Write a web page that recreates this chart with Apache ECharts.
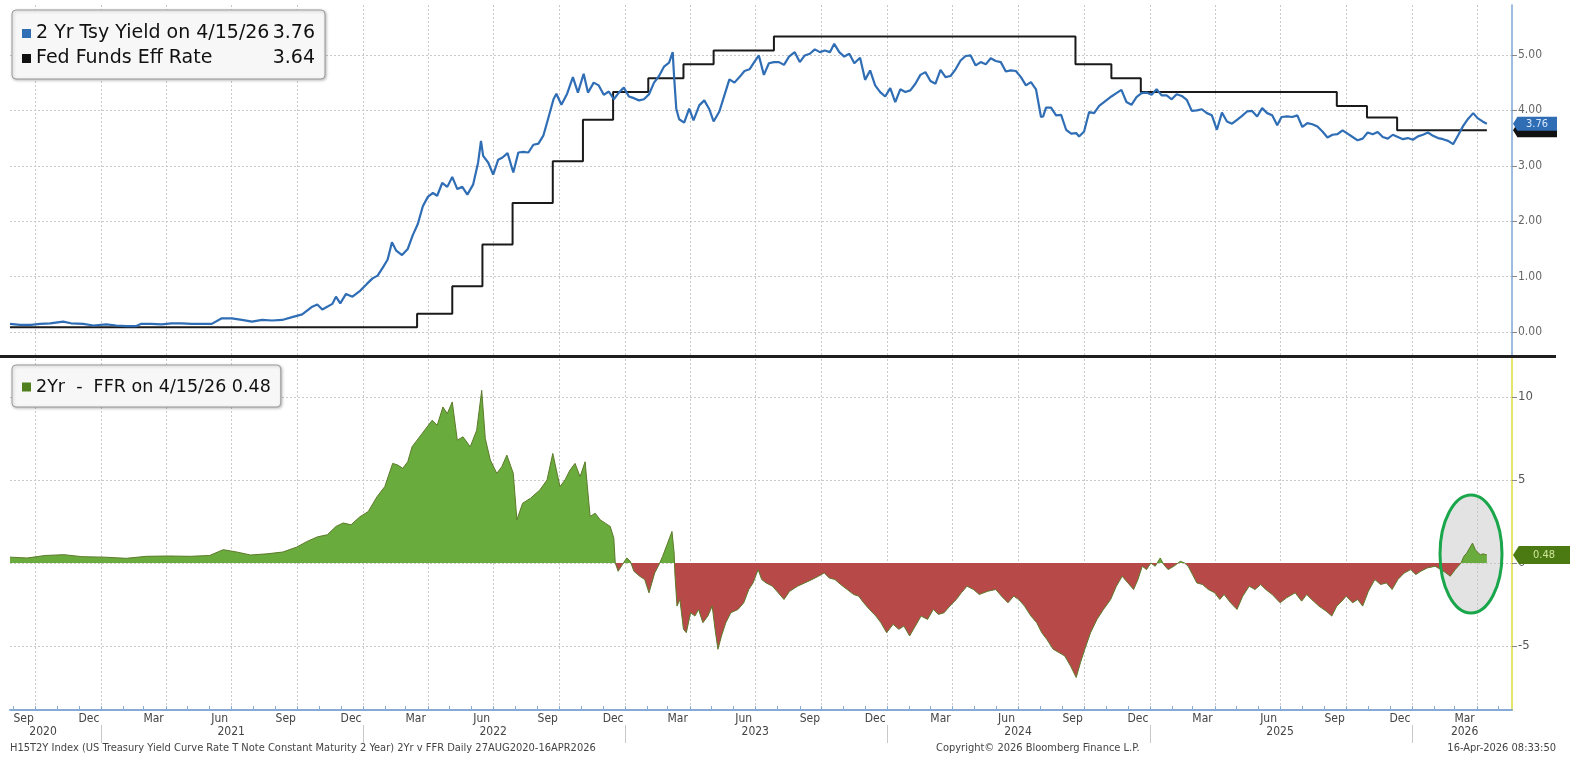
<!DOCTYPE html>
<html>
<head>
<meta charset="utf-8">
<script src="https://cdn.jsdelivr.net/npm/echarts@6/dist/echarts.min.js"></script>
<style>
html, body { margin: 0; padding: 0; background: #fff; }
#chart { width: 1570px; height: 764px; }
</style>
</head>
<body>
<div id="chart"></div>
<script>
// 2 Yr Tsy yield
const yieldPoints = [
  ['2020-08-27', 0.15], ['2020-09-10', 0.13], ['2020-09-25', 0.13], ['2020-10-08', 0.15], ['2020-10-22', 0.16],
  ['2020-11-09', 0.19], ['2020-11-20', 0.16], ['2020-12-07', 0.15], ['2020-12-21', 0.12], ['2021-01-08', 0.14],
  ['2021-01-22', 0.12], ['2021-02-05', 0.11], ['2021-02-19', 0.11], ['2021-02-26', 0.15], ['2021-03-12', 0.15],
  ['2021-03-26', 0.14], ['2021-04-09', 0.16], ['2021-04-23', 0.16], ['2021-05-07', 0.15], ['2021-05-21', 0.15],
  ['2021-06-04', 0.15], ['2021-06-18', 0.25], ['2021-07-02', 0.25], ['2021-07-16', 0.22], ['2021-07-30', 0.19],
  ['2021-08-13', 0.22], ['2021-08-27', 0.21], ['2021-09-10', 0.22], ['2021-09-24', 0.27], ['2021-10-08', 0.32],
  ['2021-10-22', 0.46], ['2021-10-29', 0.50], ['2021-11-05', 0.41], ['2021-11-19', 0.51], ['2021-11-24', 0.64],
  ['2021-11-30', 0.52], ['2021-12-08', 0.69], ['2021-12-17', 0.64], ['2021-12-28', 0.75], ['2022-01-06', 0.87],
  ['2022-01-14', 0.97], ['2022-01-21', 1.02], ['2022-01-28', 1.16], ['2022-02-04', 1.31], ['2022-02-10', 1.62],
  ['2022-02-16', 1.47], ['2022-02-24', 1.39], ['2022-03-04', 1.50], ['2022-03-11', 1.75], ['2022-03-18', 1.95],
  ['2022-03-25', 2.27], ['2022-04-01', 2.44], ['2022-04-08', 2.51], ['2022-04-14', 2.46], ['2022-04-21', 2.69],
  ['2022-04-28', 2.62], ['2022-05-05', 2.80], ['2022-05-12', 2.58], ['2022-05-19', 2.62], ['2022-05-26', 2.48],
  ['2022-06-03', 2.66], ['2022-06-10', 3.06], ['2022-06-14', 3.45], ['2022-06-17', 3.18], ['2022-06-24', 3.06],
  ['2022-07-01', 2.84], ['2022-07-08', 3.11], ['2022-07-14', 3.15], ['2022-07-21', 3.23], ['2022-07-29', 2.88],
  ['2022-08-05', 3.24], ['2022-08-12', 3.25], ['2022-08-19', 3.24], ['2022-08-26', 3.38], ['2022-09-02', 3.40],
  ['2022-09-09', 3.55], ['2022-09-16', 3.87], ['2022-09-23', 4.20], ['2022-09-27', 4.30], ['2022-10-04', 4.10],
  ['2022-10-12', 4.30], ['2022-10-20', 4.60], ['2022-10-27', 4.32], ['2022-11-04', 4.66], ['2022-11-10', 4.32],
  ['2022-11-18', 4.50], ['2022-11-25', 4.45], ['2022-12-02', 4.28], ['2022-12-09', 4.34], ['2022-12-16', 4.20],
  ['2022-12-23', 4.32], ['2022-12-30', 4.41], ['2023-01-06', 4.25], ['2023-01-13', 4.22], ['2023-01-20', 4.18],
  ['2023-01-27', 4.20], ['2023-02-03', 4.29], ['2023-02-10', 4.50], ['2023-02-17', 4.62], ['2023-02-24', 4.79],
  ['2023-03-03', 4.86], ['2023-03-08', 5.05], ['2023-03-10', 4.60], ['2023-03-13', 4.03], ['2023-03-17', 3.84],
  ['2023-03-24', 3.78], ['2023-03-31', 4.03], ['2023-04-06', 3.82], ['2023-04-14', 4.09], ['2023-04-21', 4.18],
  ['2023-04-28', 4.02], ['2023-05-04', 3.80], ['2023-05-12', 3.98], ['2023-05-19', 4.27], ['2023-05-26', 4.56],
  ['2023-06-02', 4.50], ['2023-06-09', 4.60], ['2023-06-16', 4.71], ['2023-06-23', 4.74], ['2023-06-30', 4.88],
  ['2023-07-06', 4.99], ['2023-07-13', 4.64], ['2023-07-20', 4.85], ['2023-07-27', 4.87], ['2023-08-03', 4.87],
  ['2023-08-10', 4.82], ['2023-08-17', 4.97], ['2023-08-25', 5.05], ['2023-09-01', 4.87], ['2023-09-08', 4.99],
  ['2023-09-15', 5.02], ['2023-09-22', 5.10], ['2023-09-29', 5.05], ['2023-10-06', 5.08], ['2023-10-13', 5.05],
  ['2023-10-19', 5.20], ['2023-10-26', 5.05], ['2023-11-02', 4.97], ['2023-11-09', 5.02], ['2023-11-16', 4.85],
  ['2023-11-24', 4.95], ['2023-12-01', 4.55], ['2023-12-08', 4.72], ['2023-12-15', 4.45], ['2023-12-22', 4.33],
  ['2023-12-29', 4.25], ['2024-01-05', 4.40], ['2024-01-12', 4.15], ['2024-01-19', 4.38], ['2024-01-26', 4.33],
  ['2024-02-02', 4.36], ['2024-02-09', 4.48], ['2024-02-16', 4.64], ['2024-02-23', 4.69], ['2024-03-01', 4.53],
  ['2024-03-08', 4.48], ['2024-03-15', 4.73], ['2024-03-22', 4.60], ['2024-03-29', 4.62], ['2024-04-05', 4.74],
  ['2024-04-12', 4.90], ['2024-04-19', 4.98], ['2024-04-26', 4.99], ['2024-05-03', 4.81], ['2024-05-10', 4.87],
  ['2024-05-17', 4.83], ['2024-05-24', 4.94], ['2024-05-31', 4.89], ['2024-06-07', 4.87], ['2024-06-14', 4.70],
  ['2024-06-21', 4.72], ['2024-06-28', 4.71], ['2024-07-05', 4.60], ['2024-07-12', 4.45], ['2024-07-19', 4.51],
  ['2024-07-26', 4.38], ['2024-08-02', 3.88], ['2024-08-05', 3.89], ['2024-08-09', 4.05], ['2024-08-16', 4.05],
  ['2024-08-23', 3.91], ['2024-08-30', 3.92], ['2024-09-06', 3.65], ['2024-09-13', 3.58], ['2024-09-20', 3.59],
  ['2024-09-24', 3.53], ['2024-10-01', 3.62], ['2024-10-08', 3.97], ['2024-10-15', 3.95], ['2024-10-22', 4.08],
  ['2024-10-31', 4.17], ['2024-11-08', 4.25], ['2024-11-15', 4.31], ['2024-11-22', 4.37], ['2024-11-29', 4.15],
  ['2024-12-06', 4.10], ['2024-12-13', 4.24], ['2024-12-20', 4.31], ['2024-12-27', 4.32], ['2025-01-03', 4.28],
  ['2025-01-10', 4.38], ['2025-01-17', 4.27], ['2025-01-24', 4.27], ['2025-01-31', 4.20], ['2025-02-07', 4.29],
  ['2025-02-14', 4.26], ['2025-02-21', 4.19], ['2025-02-28', 3.99], ['2025-03-07', 4.00], ['2025-03-14', 4.02],
  ['2025-03-21', 3.95], ['2025-03-28', 3.91], ['2025-04-04', 3.65], ['2025-04-11', 3.96], ['2025-04-18', 3.80],
  ['2025-04-25', 3.76], ['2025-05-02', 3.83], ['2025-05-09', 3.90], ['2025-05-16', 3.98], ['2025-05-23', 3.99],
  ['2025-05-30', 3.89], ['2025-06-06', 4.04], ['2025-06-13', 3.95], ['2025-06-20', 3.91], ['2025-06-27', 3.73],
  ['2025-07-03', 3.88], ['2025-07-11', 3.89], ['2025-07-18', 3.88], ['2025-07-25', 3.91], ['2025-08-01', 3.70],
  ['2025-08-08', 3.77], ['2025-08-15', 3.75], ['2025-08-22', 3.71], ['2025-08-29', 3.62], ['2025-09-05', 3.51],
  ['2025-09-12', 3.56], ['2025-09-19', 3.57], ['2025-09-26', 3.64], ['2025-10-03', 3.58], ['2025-10-10', 3.52],
  ['2025-10-17', 3.46], ['2025-10-24', 3.49], ['2025-10-31', 3.60], ['2025-11-07', 3.57], ['2025-11-14', 3.61],
  ['2025-11-21', 3.52], ['2025-11-28', 3.49], ['2025-12-05', 3.56], ['2025-12-12', 3.52], ['2025-12-19', 3.48],
  ['2025-12-26', 3.50], ['2026-01-02', 3.47], ['2026-01-09', 3.53], ['2026-01-16', 3.56], ['2026-01-23', 3.60],
  ['2026-01-30', 3.54], ['2026-02-06', 3.50], ['2026-02-13', 3.48], ['2026-02-20', 3.45], ['2026-02-27', 3.39],
  ['2026-03-06', 3.55], ['2026-03-13', 3.72], ['2026-03-20', 3.85], ['2026-03-27', 3.95], ['2026-04-02', 3.86],
  ['2026-04-09', 3.80], ['2026-04-15', 3.76]
];

// Fed funds effective rate, one point per change
const ffrPoints = [
  ['2020-08-27', 0.09], ['2022-03-17', 0.33], ['2022-05-05', 0.83], ['2022-06-16', 1.58], ['2022-07-28', 2.33],
  ['2022-09-22', 3.08], ['2022-11-03', 3.83], ['2022-12-15', 4.33], ['2023-02-02', 4.58], ['2023-03-23', 4.83],
  ['2023-05-04', 5.08], ['2023-07-27', 5.33], ['2024-09-19', 4.83], ['2024-11-08', 4.58], ['2024-12-19', 4.33],
  ['2025-09-18', 4.08], ['2025-10-30', 3.87], ['2025-12-11', 3.64], ['2026-04-15', 3.64]
];

// 2Yr - FFR, in the lower panel's own units
const spreadPoints = [
  ['2020-08-27', 0.35], ['2020-09-20', 0.30], ['2020-10-15', 0.45], ['2020-11-10', 0.50], ['2020-12-05', 0.38],
  ['2021-01-05', 0.35], ['2021-02-05', 0.28], ['2021-03-05', 0.40], ['2021-04-05', 0.42], ['2021-05-05', 0.40],
  ['2021-06-01', 0.45], ['2021-06-20', 0.80], ['2021-07-10', 0.65], ['2021-07-28', 0.48], ['2021-08-20', 0.55],
  ['2021-09-11', 0.66], ['2021-09-30', 0.95], ['2021-10-15', 1.30], ['2021-10-29', 1.57], ['2021-11-12', 1.70],
  ['2021-11-24', 2.20], ['2021-12-04', 2.41], ['2021-12-15', 2.30], ['2021-12-27', 2.77], ['2022-01-08', 3.10],
  ['2022-01-20', 3.98], ['2022-01-31', 4.60], ['2022-02-11', 6.00], ['2022-02-18', 5.90], ['2022-02-25', 5.70],
  ['2022-03-04', 6.10], ['2022-03-10', 7.00], ['2022-03-17', 7.40], ['2022-03-24', 7.80], ['2022-04-07', 8.60],
  ['2022-04-14', 8.30], ['2022-04-22', 9.40], ['2022-04-28', 9.00], ['2022-05-05', 9.70], ['2022-05-12', 7.40],
  ['2022-05-20', 7.60], ['2022-05-30', 7.00], ['2022-06-08', 8.00], ['2022-06-15', 10.40], ['2022-06-20', 7.50],
  ['2022-06-27', 6.20], ['2022-07-06', 5.40], ['2022-07-13', 5.80], ['2022-07-20', 6.50], ['2022-07-29', 5.40],
  ['2022-08-03', 2.60], ['2022-08-11', 3.60], ['2022-08-22', 3.90], ['2022-09-04', 4.40], ['2022-09-14', 5.00],
  ['2022-09-22', 6.60], ['2022-10-02', 4.60], ['2022-10-09', 5.00], ['2022-10-16', 5.60], ['2022-10-23', 6.00],
  ['2022-10-30', 5.20], ['2022-11-06', 6.10], ['2022-11-13', 2.80], ['2022-11-20', 3.00], ['2022-11-27', 2.60],
  ['2022-12-04', 2.40], ['2022-12-11', 2.20], ['2022-12-16', 1.50], ['2022-12-18', 0.00], ['2022-12-22', -0.50],
  ['2022-12-28', -0.10], ['2023-01-03', 0.30], ['2023-01-08', 0.10], ['2023-01-13', -0.50], ['2023-01-21', -0.80],
  ['2023-01-28', -1.00], ['2023-02-03', -1.80], ['2023-02-11', -0.60], ['2023-02-17', -0.10], ['2023-02-22', 0.40],
  ['2023-03-01', 1.20], ['2023-03-07', 1.90], ['2023-03-10', 0.60], ['2023-03-11', -0.60], ['2023-03-14', -2.60],
  ['2023-03-18', -2.20], ['2023-03-23', -4.00], ['2023-03-27', -4.20], ['2023-04-02', -3.00], ['2023-04-08', -3.20],
  ['2023-04-13', -2.80], ['2023-04-19', -3.60], ['2023-04-26', -3.20], ['2023-05-02', -2.60], ['2023-05-06', -4.00],
  ['2023-05-10', -5.20], ['2023-05-15', -4.40], ['2023-05-21', -3.60], ['2023-05-28', -3.00], ['2023-06-07', -2.80],
  ['2023-06-15', -2.40], ['2023-06-22', -1.60], ['2023-06-28', -1.20], ['2023-07-05', -0.40], ['2023-07-10', -1.00],
  ['2023-07-16', -1.20], ['2023-07-25', -1.40], ['2023-08-02', -1.80], ['2023-08-10', -2.20], ['2023-08-18', -1.70],
  ['2023-08-29', -1.40], ['2023-09-08', -1.20], ['2023-09-18', -1.00], ['2023-09-27', -0.80], ['2023-10-05', -0.60],
  ['2023-10-12', -0.90], ['2023-10-20', -1.00], ['2023-10-28', -1.30], ['2023-11-06', -1.60], ['2023-11-15', -1.90],
  ['2023-11-22', -2.00], ['2023-11-29', -2.40], ['2023-12-07', -2.80], ['2023-12-16', -3.20], ['2023-12-23', -3.60],
  ['2023-12-31', -4.20], ['2024-01-09', -3.70], ['2024-01-17', -4.00], ['2024-01-24', -3.80], ['2024-02-01', -4.40],
  ['2024-02-09', -3.80], ['2024-02-17', -3.20], ['2024-02-26', -3.40], ['2024-03-05', -2.80], ['2024-03-12', -3.10],
  ['2024-03-20', -3.00], ['2024-03-28', -2.60], ['2024-04-06', -2.20], ['2024-04-13', -1.80], ['2024-04-21', -1.40],
  ['2024-04-30', -1.60], ['2024-05-08', -1.90], ['2024-05-20', -1.70], ['2024-05-31', -1.60], ['2024-06-08', -2.00],
  ['2024-06-17', -2.40], ['2024-06-25', -2.00], ['2024-07-02', -2.20], ['2024-07-10', -2.60], ['2024-07-19', -3.20],
  ['2024-07-27', -3.60], ['2024-08-03', -4.20], ['2024-08-10', -4.60], ['2024-08-19', -5.20], ['2024-08-27', -5.40],
  ['2024-09-04', -5.60], ['2024-09-12', -6.20], ['2024-09-20', -6.90], ['2024-09-26', -6.00], ['2024-10-02', -5.20],
  ['2024-10-10', -4.20], ['2024-10-19', -3.40], ['2024-10-28', -2.80], ['2024-11-07', -2.20], ['2024-11-15', -1.40],
  ['2024-11-23', -0.80], ['2024-12-01', -1.20], ['2024-12-09', -1.60], ['2024-12-15', -1.00], ['2024-12-21', -0.20],
  ['2024-12-27', -0.40], ['2025-01-02', 0.00], ['2025-01-08', -0.20], ['2025-01-15', 0.30], ['2025-01-20', -0.10],
  ['2025-01-26', -0.40], ['2025-02-03', -0.20], ['2025-02-12', 0.10], ['2025-02-18', 0.00], ['2025-02-23', -0.20],
  ['2025-03-01', -0.70], ['2025-03-07', -1.20], ['2025-03-15', -1.30], ['2025-03-23', -1.60], ['2025-04-01', -1.80],
  ['2025-04-08', -2.20], ['2025-04-14', -1.90], ['2025-04-23', -2.40], ['2025-05-02', -2.80], ['2025-05-10', -2.00],
  ['2025-05-19', -1.40], ['2025-05-27', -1.60], ['2025-06-04', -1.30], ['2025-06-11', -1.60], ['2025-06-20', -1.90],
  ['2025-07-01', -2.40], ['2025-07-10', -2.10], ['2025-07-22', -1.80], ['2025-07-31', -2.30], ['2025-08-07', -1.90],
  ['2025-08-14', -2.20], ['2025-08-24', -2.60], ['2025-09-03', -2.90], ['2025-09-11', -3.20], ['2025-09-18', -2.60],
  ['2025-09-25', -2.30], ['2025-10-01', -2.00], ['2025-10-10', -2.40], ['2025-10-17', -2.20], ['2025-10-24', -2.60],
  ['2025-11-01', -1.70], ['2025-11-10', -1.00], ['2025-11-18', -1.30], ['2025-11-26', -1.20], ['2025-12-04', -1.60],
  ['2025-12-12', -1.00], ['2025-12-21', -0.60], ['2025-12-30', -0.40], ['2026-01-06', -0.70], ['2026-01-13', -0.50],
  ['2026-01-22', -0.30], ['2026-02-02', -0.20], ['2026-02-10', -0.40], ['2026-02-17', -0.60], ['2026-02-23', -0.80],
  ['2026-03-02', -0.40], ['2026-03-10', 0.00], ['2026-03-14', 0.40], ['2026-03-18', 0.60], ['2026-03-22', 0.90],
  ['2026-03-26', 1.20], ['2026-03-30', 0.80], ['2026-04-03', 0.60], ['2026-04-06', 0.50], ['2026-04-10', 0.55],
  ['2026-04-15', 0.48]
];

const yieldName = '2 Yr Tsy Yield on 4/15/26';
const ffrName = 'Fed Funds Eff Rate';
const spreadName = '2Yr  -  FFR on 4/15/26';
const lastYield = 3.76;
const lastFfr = 3.64;
const lastSpread = 0.48;

// axis ticks and labels
const topTicks = [0, 1, 2, 3, 4, 5];
const bottomTicks = [-5, 0, 5, 10];
const monthLabelNames = ['Mar', 'Jun', 'Sep', 'Dec'];
const yearLabels = ['2020', '2021', '2022', '2023', '2024', '2025', '2026'];
const yearLabelDates = ['2020-10-12', '2021-07-01', '2022-07-01', '2023-07-01', '2024-07-01', '2025-07-01', '2026-03-15'];
const footerLeft = 'H15T2Y Index (US Treasury Yield Curve Rate T Note Constant Maturity 2 Year) 2Yr v FFR Daily 27AUG2020-16APR2026';
const footerMid = 'Copyright\u00a9 2026 Bloomberg Finance L.P.';
const footerRight = '16-Apr-2026 08:33:50';

const ts = (s) => new Date(s + 'T00:00:00').getTime();
const xMin = ts('2020-08-27');
const xMax = ts('2026-05-20');

// quarter grid lines, monthly ticks, mid-month labels, year separators
const quarterTicks = [];
const monthTicks = [];
const monthLabelValues = [];
const monthLabelMap = {};
const yearTicks = [];
for (let y = 2020; y <= 2026; y++) {
  for (let m = 0; m < 12; m++) {
    const start = new Date(y, m, 1).getTime();
    if (start < xMin || start > xMax) continue;
    monthTicks.push(start);
    if (m % 3 === 0) quarterTicks.push(start);
    if (m === 0) yearTicks.push(start);
  }
  [2, 5, 8, 11].forEach((m, i) => {
    const mid = new Date(y, m, 15).getTime();
    if (mid < xMin || mid > xMax) return;
    monthLabelValues.push(mid);
    monthLabelMap[mid] = monthLabelNames[i];
  });
}
const yearLabelValues = yearLabelDates.map(ts);
const yearLabelMap = {};
yearLabelValues.forEach((v, i) => { yearLabelMap[v] = yearLabels[i]; });

const toData = (pts) => pts.map(p => [ts(p[0]), p[1]]);
const axisFont = '"Liberation Sans Narrow", "DejaVu Sans Condensed", "Liberation Sans", sans-serif';
const dotted = { show: true, lineStyle: { color: '#c9c9c9', type: [2, 2], width: 1 } };
const tagPath = 'path://M0,7 L6,0 L60,0 L60,14 L6,14 Z';

const chart = echarts.init(document.getElementById('chart'));

const option = {
  animation: false,
  backgroundColor: '#fff',
  grid: [
    { left: 10, right: 58, top: 5, height: 351 },
    { left: 10, right: 58, top: 359, height: 351 }
  ],
  xAxis: [
    {
      gridIndex: 0, type: 'value', min: xMin, max: xMax, position: 'bottom',
      axisLine: { show: false },
      axisTick: { show: false, customValues: quarterTicks },
      axisLabel: { show: false },
      splitLine: dotted
    },
    {
      gridIndex: 1, type: 'value', min: xMin, max: xMax, position: 'bottom',
      axisLine: { show: true, onZero: false, lineStyle: { color: '#86aad6', width: 2 } },
      axisTick: { show: false, customValues: quarterTicks },
      axisLabel: { show: false },
      splitLine: dotted
    },
    {
      gridIndex: 1, type: 'value', min: xMin, max: xMax, position: 'bottom',
      axisLine: { show: false, onZero: false },
      axisTick: { show: true, customValues: monthTicks, inside: true, length: 4, lineStyle: { color: '#86aad6' } },
      axisLabel: {
        customValues: monthLabelValues, margin: 3, color: '#444', fontSize: 12, fontFamily: axisFont,
        formatter: (v) => monthLabelMap[v] || ''
      },
      splitLine: { show: false }
    },
    {
      gridIndex: 1, type: 'value', min: xMin, max: xMax, position: 'bottom', offset: 15,
      axisLine: { show: false, onZero: false },
      axisTick: { show: true, customValues: yearTicks, length: 18, lineStyle: { color: '#c8c8c8' } },
      axisLabel: {
        customValues: yearLabelValues, margin: 1, color: '#444', fontSize: 12, fontFamily: axisFont,
        formatter: (v) => yearLabelMap[v] || ''
      },
      splitLine: { show: false }
    }
  ],
  yAxis: [
    {
      gridIndex: 0, type: 'value', position: 'right', min: -0.43, max: 5.9,
      axisLine: { show: true, lineStyle: { color: '#7aa4d4', width: 1.5 } },
      axisTick: { show: true, customValues: topTicks, length: 5, lineStyle: { color: '#888' } },
      axisLabel: {
        customValues: topTicks, margin: 6, color: '#666', fontSize: 12, fontFamily: axisFont,
        formatter: (v) => v.toFixed(2)
      },
      splitLine: dotted
    },
    {
      gridIndex: 1, type: 'value', position: 'right', min: -8.86, max: 12.29,
      axisLine: { show: true, lineStyle: { color: '#e4e46e', width: 2 } },
      axisTick: { show: true, customValues: bottomTicks, length: 5, lineStyle: { color: '#888' } },
      axisLabel: {
        customValues: bottomTicks, margin: 6, color: '#555', fontSize: 13, fontFamily: axisFont,
        formatter: (v) => String(v)
      },
      splitLine: dotted
    }
  ],
  legend: [
    {
      left: 12, top: 10, orient: 'vertical', selectedMode: false,
      data: [
        { name: yieldName, itemStyle: { color: '#2f6db5' } },
        { name: ffrName, itemStyle: { color: '#111' } }
      ],
      icon: 'rect', itemWidth: 9, itemHeight: 9, itemGap: 6,
      padding: [14, 10, 11, 10],
      backgroundColor: '#f7f7f7', borderColor: '#9a9a9a', borderWidth: 1, borderRadius: 4,
      shadowBlur: 3, shadowColor: 'rgba(0,0,0,0.25)', shadowOffsetX: 1, shadowOffsetY: 1,
      textStyle: {
        color: '#111', fontFamily: 'DejaVu Sans', fontSize: 19,
        rich: {
          n: { width: 236, fontFamily: 'DejaVu Sans', fontSize: 19, color: '#111' },
          v: { width: 43, align: 'right', fontFamily: 'DejaVu Sans', fontSize: 19, color: '#111' }
        }
      },
      formatter: (name) => '{n|' + name + '}{v|' + (name === yieldName ? lastYield : lastFfr).toFixed(2) + '}'
    },
    {
      left: 12, top: 365, orient: 'vertical', selectedMode: false,
      data: [{ name: spreadName, itemStyle: { color: '#4f7f1c' } }],
      icon: 'rect', itemWidth: 9, itemHeight: 9,
      padding: [13, 10, 11, 10],
      backgroundColor: '#f7f7f7', borderColor: '#9a9a9a', borderWidth: 1, borderRadius: 4,
      shadowBlur: 3, shadowColor: 'rgba(0,0,0,0.25)', shadowOffsetX: 1, shadowOffsetY: 1,
      textStyle: { color: '#111', fontFamily: 'DejaVu Sans', fontSize: 17.5 },
      formatter: (name) => name + ' ' + lastSpread.toFixed(2)
    }
  ],
  visualMap: {
    type: 'piecewise', show: false, seriesIndex: 2, dimension: 1,
    pieces: [
      { gt: 0, lte: 100, color: '#6aab3d' },
      { gte: -100, lte: 0, color: '#b74a48' }
    ]
  },
  series: [
    {
      name: ffrName, type: 'line', xAxisIndex: 0, yAxisIndex: 0, step: 'end',
      data: toData(ffrPoints), showSymbol: false, z: 3,
      lineStyle: { color: '#1a1a1a', width: 2 },
      itemStyle: { color: '#1a1a1a' },
      markPoint: {
        symbol: tagPath, symbolSize: [44, 14], symbolKeepAspect: false, symbolOffset: [23, 0],
        itemStyle: { color: '#111' },
        label: { show: false },
        data: [{ coord: [xMax, lastFfr], value: lastFfr }]
      }
    },
    {
      name: yieldName, type: 'line', xAxisIndex: 0, yAxisIndex: 0,
      data: toData(yieldPoints), showSymbol: false, z: 4,
      lineStyle: { color: '#2f6db5', width: 2.2 },
      itemStyle: { color: '#2f6db5' },
      markPoint: {
        symbol: tagPath, symbolSize: [44, 14], symbolKeepAspect: false, symbolOffset: [23, 0],
        itemStyle: { color: '#2f6db5' },
        label: {
          show: true, position: 'inside', offset: [2, 0], color: '#d8e8ff', fontSize: 11, fontFamily: axisFont,
          formatter: (p) => p.value.toFixed(2)
        },
        data: [{ coord: [xMax, lastYield], value: lastYield }]
      }
    },
    {
      name: spreadName, type: 'line', xAxisIndex: 1, yAxisIndex: 1,
      data: toData(spreadPoints), showSymbol: false, z: 3,
      lineStyle: { color: '#5c7a2a', width: 1 },
      areaStyle: { opacity: 1 },
      markPoint: {
        symbol: tagPath, symbolSize: [58, 18], symbolKeepAspect: false, symbolOffset: [30, 0],
        itemStyle: { color: '#4b7a12' },
        label: {
          show: true, position: 'inside', offset: [2, 0], color: '#cfe79a', fontSize: 11, fontFamily: axisFont,
          formatter: (p) => p.value.toFixed(2)
        },
        data: [{ coord: [xMax, lastSpread], value: lastSpread }]
      }
    }
  ],
  graphic: [
    { type: 'rect', shape: { x: 0, y: 355, width: 1556, height: 3 }, style: { fill: '#1e1e1e' }, z: 50 },
    { type: 'ellipse', shape: { cx: 1471, cy: 554, rx: 31, ry: 59 }, style: { fill: 'rgba(200,200,200,0.5)' }, z: 1 },
    { type: 'ellipse', shape: { cx: 1471, cy: 554, rx: 31, ry: 59 }, style: { fill: 'none', stroke: '#1aa64b', lineWidth: 3 }, z: 60 },
    { type: 'text', left: 10, top: 743, style: { text: footerLeft, fill: '#444', font: '11px ' + axisFont }, z: 60 },
    { type: 'text', left: 936, top: 743, style: { text: footerMid, fill: '#444', font: '11px ' + axisFont }, z: 60 },
    { type: 'text', right: 14, top: 743, style: { text: footerRight, fill: '#444', font: '11px ' + axisFont }, z: 60 }
  ]
};

chart.setOption(option);
</script>
</body>
</html>
